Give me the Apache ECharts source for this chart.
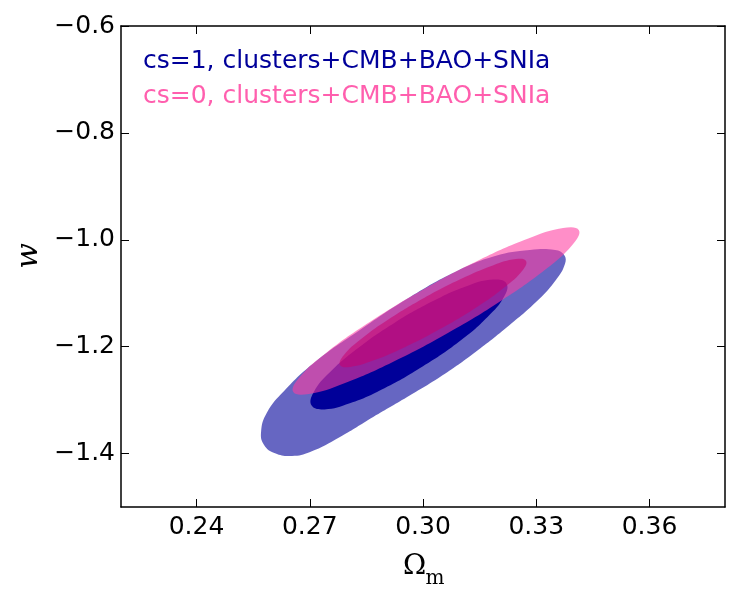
<!DOCTYPE html>
<html><head><meta charset="utf-8">
<script src="https://cdn.jsdelivr.net/npm/echarts@6/dist/echarts.min.js"></script>
<style>html,body{margin:0;padding:0;background:#fff}#c{width:741px;height:603px}</style>
</head><body><div id="c"></div>
<script>
// tick values / labels
const xTicks = [0.24, 0.27, 0.30, 0.33, 0.36];
const xTickLabels = ['0.24', '0.27', '0.30', '0.33', '0.36'];
const yTicks = [-1.4, -1.2, -1.0, -0.8, -0.6];
const yTickLabels = ['\u22121.4', '\u22121.2', '\u22121.0', '\u22120.8', '\u22120.6'];
const seriesNames = ['cs=1, clusters+CMB+BAO+SNIa', 'cs=0, clusters+CMB+BAO+SNIa'];
const xTitle = ['\u03A9', 'm'];
const yTitle = 'w';

// contour outlines [Omega_m, w]
const blueOuter = [[0.2571,-1.3597],[0.2579,-1.3840],[0.2608,-1.3995],[0.2653,-1.4046],[0.2701,-1.3971],[0.2780,-1.3690],[0.2868,-1.3316],[0.2958,-1.2942],[0.3045,-1.2568],[0.3132,-1.2137],[0.3223,-1.1632],[0.3305,-1.1127],[0.3352,-1.0753],[0.3376,-1.0453],[0.3374,-1.0285],[0.3350,-1.0191],[0.3283,-1.0191],[0.3191,-1.0304],[0.3085,-1.0603],[0.2966,-1.1071],[0.2833,-1.1688],[0.2714,-1.2287],[0.2632,-1.2830],[0.2586,-1.3240]];
const blueInner = [[0.3221,-1.0816],[0.3215,-1.1061],[0.3171,-1.1443],[0.3096,-1.1903],[0.2999,-1.2371],[0.2898,-1.2777],[0.2806,-1.3060],[0.2739,-1.3174],[0.2705,-1.3103],[0.2710,-1.2858],[0.2754,-1.2476],[0.2830,-1.2017],[0.2926,-1.1548],[0.3028,-1.1142],[0.3119,-1.0859],[0.3187,-1.0745]];
const pinkOuter = [[0.3413,-0.9822],[0.3396,-1.0092],[0.3325,-1.0552],[0.3209,-1.1131],[0.3067,-1.1740],[0.2920,-1.2287],[0.2790,-1.2689],[0.2698,-1.2884],[0.2656,-1.2844],[0.2673,-1.2573],[0.2744,-1.2113],[0.2860,-1.1535],[0.3002,-1.0925],[0.3149,-1.0378],[0.3279,-0.9976],[0.3371,-0.9781]];
const pinkInner = [[0.3273,-1.0397],[0.3263,-1.0580],[0.3217,-1.0884],[0.3142,-1.1262],[0.3049,-1.1656],[0.2953,-1.2006],[0.2868,-1.2261],[0.2807,-1.2379],[0.2780,-1.2343],[0.2790,-1.2160],[0.2836,-1.1857],[0.2911,-1.1479],[0.3004,-1.1084],[0.3100,-1.0734],[0.3185,-1.0479],[0.3246,-1.0362]];

function lab(ticks, labels) {
  return function (v) {
    const i = ticks.findIndex(t => Math.abs(t - v) < 1e-9);
    return i >= 0 ? labels[i] : '';
  };
}
function contour(name, pts, fill) {
  return {
    type: 'custom', name: name, silent: true, data: pts, encode: {x: 0, y: 1},
    renderItem: function (params, api) {
      if (params.dataIndex !== 0) return null;
      const p = pts.map(q => api.coord(q));
      return {type: 'polygon', shape: {points: p, smooth: 0.45}, style: {fill: fill}};
    }
  };
}
const lineStyle = {color: '#000', width: 1.5};
const tickStyle = {color: '#000', width: 1};
const font = 'DejaVu Sans';
const chart = echarts.init(document.getElementById('c'), null, {renderer: 'canvas'});
chart.setOption({
  animation: false,
  backgroundColor: '#fff',
  grid: {left: 121, right: 16, top: 26, bottom: 96},
  xAxis: [
    {type: 'value', min: 0.22, max: 0.38, position: 'bottom',
     axisLine: {show: true, onZero: false, lineStyle: lineStyle},
     axisTick: {show: true, inside: true, length: 8, customValues: xTicks, lineStyle: tickStyle},
     axisLabel: {customValues: xTicks, formatter: lab(xTicks, xTickLabels), margin: 8, fontSize: 25, fontFamily: font, color: '#000'},
     splitLine: {show: false}},
    {type: 'value', min: 0.22, max: 0.38, position: 'top',
     axisLine: {show: true, onZero: false, lineStyle: lineStyle},
     axisTick: {show: true, inside: true, length: 8, customValues: xTicks, lineStyle: tickStyle},
     axisLabel: {show: false}, splitLine: {show: false}}
  ],
  yAxis: [
    {type: 'value', min: -1.5, max: -0.6, position: 'left',
     axisLine: {show: true, onZero: false, lineStyle: lineStyle},
     axisTick: {show: true, inside: true, length: 8, customValues: yTicks, lineStyle: tickStyle},
     axisLabel: {customValues: yTicks, formatter: lab(yTicks, yTickLabels), margin: 6, fontSize: 25, fontFamily: font, color: '#000'},
     splitLine: {show: false}},
    {type: 'value', min: -1.5, max: -0.6, position: 'right',
     axisLine: {show: true, onZero: false, lineStyle: lineStyle},
     axisTick: {show: true, inside: true, length: 8, customValues: yTicks, lineStyle: tickStyle},
     axisLabel: {show: false}, splitLine: {show: false}}
  ],
  series: [
    contour(seriesNames[0], blueOuter, 'rgba(0,0,153,0.6)'),
    contour(seriesNames[0], blueInner, 'rgb(0,0,153)'),
    contour(seriesNames[1], pinkOuter, 'rgba(255,60,160,0.58)'),
    contour(seriesNames[1], pinkInner, 'rgba(200,0,110,0.55)')
  ],
  graphic: [
    {type: 'text', left: 143, top: 49, silent: true,
     style: {text: seriesNames[0], fill: '#00009a', font: '25px "DejaVu Sans"'}},
    {type: 'text', left: 143, top: 84, silent: true,
     style: {text: seriesNames[1], fill: '#ff5fae', font: '25px "DejaVu Sans"'}},
    {type: 'text', x: 414.7, y: 567, silent: true,
     style: {text: xTitle[0], fill: '#000', font: '28px "DejaVu Serif"', align: 'center', verticalAlign: 'middle'}},
    {type: 'text', x: 435, y: 579, silent: true,
     style: {text: xTitle[1], fill: '#000', font: '20px "DejaVu Serif"', align: 'center', verticalAlign: 'middle'}},
    {type: 'text', x: 29, y: 256, rotation: Math.PI / 2, silent: true,
     style: {text: yTitle, fill: '#000', font: 'italic 30px "DejaVu Serif"', align: 'center', verticalAlign: 'middle'}}
  ]
});
</script>
</body></html>
